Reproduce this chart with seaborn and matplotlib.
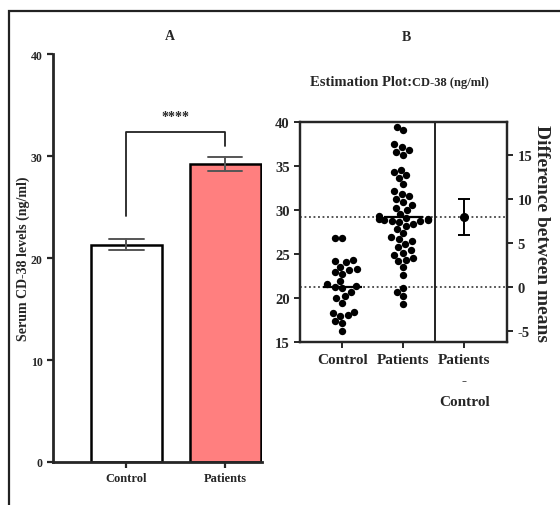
import numpy as np
import pandas as pd
import matplotlib
matplotlib.use("Agg")
import matplotlib.pyplot as plt
from matplotlib.patches import Rectangle
import seaborn as sns

# values
groups = ["Control", "Patients"]
control = [26.8, 26.8, 24.2, 24.4, 24.1, 23.6, 23.2, 23.0, 23.3, 22.8, 22.0, 21.4, 21.6,
           21.3, 21.2, 20.7, 20.0, 20.3, 19.5, 18.5, 18.3, 18.1, 18.0, 17.4, 17.2, 16.3]
patients = [39.5, 39.1, 37.5, 37.2, 36.9, 36.6, 36.3, 34.6, 34.3, 34.0, 33.7, 33.0, 32.2,
            31.9, 31.6, 31.3, 31.0, 30.6, 30.3, 30.0, 29.6, 29.3, 29.1, 29.0, 29.0, 28.9,
            28.9, 28.8, 28.8, 28.7, 28.5, 28.2, 27.9, 27.4, 27.0, 26.7, 26.5, 26.2, 25.8,
            25.5, 25.2, 24.9, 24.6, 24.4, 24.2, 23.6, 22.7, 21.2, 20.7, 20.3, 19.4]
diff_ci = [5.9, 10.0]
left_ticks = [0, 10, 20, 30, 40]
est_ticks = [15, 20, 25, 30, 35, 40]
diff_ticks = [-5, 0, 5, 10, 15]
est_labels = ["Control", "Patients", "Patients\n-\nControl"]

df = pd.DataFrame({"group": ["Control"] * len(control) + ["Patients"] * len(patients),
                   "value": control + patients})
cm = np.mean(control)
pm = np.mean(patients)

sns.set_style("ticks")
plt.rcParams["font.family"] = ["Liberation Serif", "DejaVu Serif"]
plt.rcParams["font.weight"] = "bold"
plt.rcParams["axes.linewidth"] = 1.6

fig = plt.figure(figsize=(5.6, 5.06), dpi=100)

# ---- panel A: bars ----
axA = fig.add_axes([0.0946, 0.085, 0.3734, 0.806])
sns.barplot(data=df, x="group", y="value", hue="group", order=groups,
            palette={"Control": "white", "Patients": "#FF7F7F"}, saturation=1,
            edgecolor="black", linewidth=1.8, errorbar="se", capsize=0.35,
            err_kws={"color": "#555555", "linewidth": 1.4}, width=0.72,
            legend=False, ax=axA)
axA.set_xlim(-0.746, 1.376)
axA.set_ylim(0, 40)
axA.set_yticks(left_ticks)
axA.set_yticklabels([str(t) for t in left_ticks], fontsize=8.5, fontweight="bold")
axA.set_xticks([0, 1])
axA.set_xticklabels(groups, fontsize=9, fontweight="bold")
axA.tick_params(width=1.6, length=4)
axA.set_xlabel("")
axA.set_ylabel("Serum CD-38 levels (ng/ml)", fontsize=10, fontweight="bold")
axA.yaxis.set_label_coords(-0.11, 0.5)
sns.despine(ax=axA)
axA.spines["bottom"].set_linewidth(2)
axA.spines["left"].set_linewidth(2)
# significance bracket
axA.plot([0, 0, 1, 1], [24.1, 32.4, 32.4, 31.0], color="#222222", lw=1.3)
axA.text(0.5, 33.2, "****", ha="center", va="bottom", fontsize=10, fontweight="bold")

# ---- panel B: estimation plot ----
axB = fig.add_axes([0.536, 0.3215, 0.3696, 0.4348])
sns.swarmplot(data=df, x="group", y="value", order=groups, color="black",
              size=5.3, ax=axB)
for i, m in enumerate([cm, pm]):
    axB.hlines(m, i - 0.32, i + 0.32, color="black", lw=1.6, zorder=5)
axB.axhline(cm, color="#444444", ls=(0, (1, 1.5)), lw=1.3, zorder=0)
axB.axhline(pm, color="#444444", ls=(0, (1, 1.5)), lw=1.3, zorder=0)
axB.axvline(1.52, color="#222222", lw=1.4)
axB.set_xlim(-0.69, 2.70)
axB.set_ylim(15, 40)
axB.set_yticks(est_ticks)
axB.set_yticklabels([str(t) for t in est_ticks], fontsize=10.5, fontweight="bold")
axB.set_xticks([0, 1, 2])
axB.set_xticklabels(est_labels, fontsize=11, fontweight="bold")
axB.get_xticklabels()[2].set_linespacing(1.8)
axB.set_xlabel("")
axB.set_ylabel("")
axB.tick_params(width=1.4, length=4)
for s in axB.spines.values():
    s.set_linewidth(1.6)

axD = axB.twinx()
axD.set_ylim(15 - cm, 40 - cm)
axD.errorbar([2], [pm - cm], yerr=[[pm - cm - diff_ci[0]], [diff_ci[1] - (pm - cm)]],
             fmt="o", color="black", ms=5.5, capsize=4, elinewidth=1.4, capthick=1.4)
axD.set_yticks(diff_ticks)
axD.set_yticklabels([str(t) for t in diff_ticks], fontsize=10.5, fontweight="bold")
axD.tick_params(width=1.4, length=4)
axD.set_ylabel("Difference between means", fontsize=14, fontweight="bold",
               rotation=-90, labelpad=13)
for s in axD.spines.values():
    s.set_linewidth(1.6)

# titles
fig.text(0.304, 0.927, "A", ha="center", va="center", fontsize=10, fontweight="bold")
fig.text(0.725, 0.925, "B", ha="center", va="center", fontsize=10, fontweight="bold")
fig.text(0.735, 0.836, "Estimation Plot:", ha="right", va="center", fontsize=10.5, fontweight="bold")
fig.text(0.735, 0.836, "CD-38 (ng/ml)", ha="left", va="center", fontsize=9, fontweight="bold")

# outer frame
fig.patches.append(Rectangle((0.016, -0.05), 1.1, 1.027, transform=fig.transFigure,
                             fill=False, edgecolor="#222222", lw=1.6, clip_on=False))

fig.savefig("out.png", dpi=100)
